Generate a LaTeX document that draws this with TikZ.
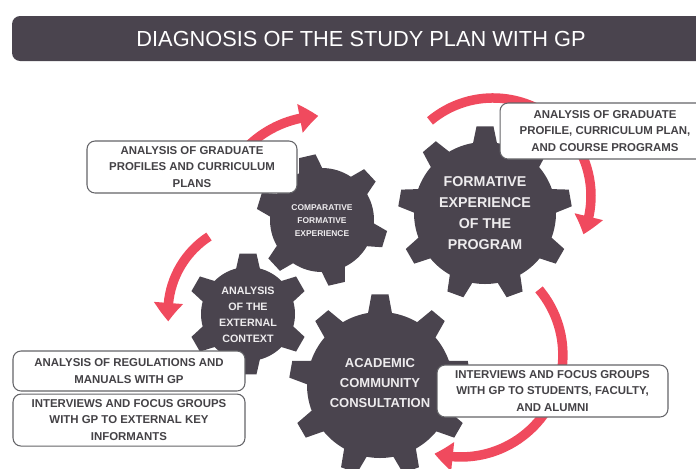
\documentclass[tikz,border=0pt]{standalone}
\usepackage{fontspec}
\setmainfont{Liberation Sans}
\usepackage{tikz}
\usetikzlibrary{arrows.meta, bending, positioning}
\definecolor{gearcol}{RGB}{74, 68, 78}
\definecolor{gearlabel}{RGB}{238, 236, 238}
\definecolor{arrowred}{RGB}{240, 74, 94}
\definecolor{boxline}{RGB}{100, 100, 104}
\definecolor{boxtext}{RGB}{68, 66, 70}

\newcommand{\sized}[2]{\fontsize{#1}{#2}\selectfont}

% gear outline: centre, teeth, root radius, tip radius, angle of first tooth
\newcommand{\gear}[5]{%
  \begin{scope}[shift={(#1)}]
    \pgfmathsetmacro\pitch{360/#2}
    \pgfmathsetmacro\tipw{deg(8.5/#4)}
    \pgfmathsetmacro\rootw{deg(12/#3)}
    \fill[gearcol] (#5-\pitch+\rootw:#3)
      \foreach \t [evaluate=\t as \a using #5+(\t-1)*\pitch] in {1,...,#2} {
        arc[start angle=\a-\pitch+\rootw, end angle=\a-\rootw, radius=#3]
        -- (\a-\tipw:#4) -- (\a+\tipw:#4) -- (\a+\rootw:#3)
      } -- cycle;
  \end{scope}}

\begin{document}
\begin{tikzpicture}[
    x=0.02cm, y=0.02cm,
    titlebar/.style={fill=gearcol, rounded corners=0.16cm, text=white,
                     minimum width=13.96cm, minimum height=0.9cm,
                     font=\sized{12.4}{14}},
    geartext/.style={text=gearlabel, align=center, inner sep=0},
    infobox/.style={draw=boxline, line width=0.6pt, fill=white,
                    rounded corners=0.16cm, align=center, text=boxtext,
                    font=\bfseries\sized{6.5}{9.6}, inner sep=0},
    turnarrow/.style={draw=arrowred, line width=0.19cm,
                      -{Triangle[width=0.56cm, length=0.37cm, bend]}}
]
    \useasboundingbox (0,0) rectangle (696,-468);

    % Heading
    \node[titlebar] (title) at (361,-38.5) {DIAGNOSIS OF THE STUDY PLAN WITH GP};

    % Gear centres
    \coordinate (cform) at (485,-213);
    \coordinate (ccomp) at (322,-220);
    \coordinate (cext) at (248,-314);
    \coordinate (cacad) at (380,-385);

    % Gears
    \gear{cform}{9}{71}{87}{90}
    \gear{ccomp}{6}{52}{66}{103}
    \gear{cext}{6}{47}{61}{90}
    \gear{cacad}{9}{73}{91}{90}

    % Gear labels
    \node[geartext, font=\bfseries\sized{8.1}{11.9}] (formative) at (cform)
        {FORMATIVE\\EXPERIENCE\\OF THE\\PROGRAM};
    \node[geartext, font=\bfseries\sized{4.8}{7.4}] (comparative) at (322,-221)
        {COMPARATIVE\\FORMATIVE\\EXPERIENCE};
    \node[geartext, font=\bfseries\sized{6.1}{9.2}] (external) at (248,-315)
        {ANALYSIS\\OF THE\\EXTERNAL\\CONTEXT};
    \node[geartext, font=\bfseries\sized{7.4}{11.3}] (academic) at (380,-383)
        {ACADEMIC\\COMMUNITY\\CONSULTATION};

    % Turning arrows
    \coordinate (t1) at (240.8,-153.9);
    \coordinate (t2) at (430,-120.9);
    \coordinate (t3) at (539,-289.4);
    \coordinate (t4) at (209,-236.5);
    \draw[turnarrow] (t1) arc[start angle=140, end angle=92, radius=106];
    \draw[turnarrow] (t2) arc[start angle=130, end angle=-23, radius=98];
    \draw[turnarrow] (t3) arc[start angle=40, end angle=-105, radius=102];
    \draw[turnarrow] (t4) arc[start angle=123, end angle=186, radius=90];

    % Activity boxes
    \node[infobox, minimum width=4.2cm, minimum height=1.04cm] (profiles) at (192,-167)
        {ANALYSIS OF GRADUATE\\PROFILES AND CURRICULUM\\PLANS};
    \node[infobox, minimum width=4.2cm, minimum height=1.12cm] (programs) at (605,-131)
        {ANALYSIS OF GRADUATE\\PROFILE, CURRICULUM PLAN,\\AND COURSE PROGRAMS};
    \node[infobox, minimum width=4.64cm, minimum height=0.8cm] (regs) at (129,-371)
        {ANALYSIS OF REGULATIONS AND\\MANUALS WITH GP};
    \node[infobox, minimum width=4.64cm, minimum height=1.04cm, below=0.04cm of regs] (keyinf)
        {INTERVIEWS AND FOCUS GROUPS\\WITH GP TO EXTERNAL KEY\\INFORMANTS};
    \node[infobox, minimum width=4.62cm, minimum height=1.04cm] (alumni) at (552.5,-391)
        {INTERVIEWS AND FOCUS GROUPS\\WITH GP TO STUDENTS, FACULTY,\\AND ALUMNI};
\end{tikzpicture}
\end{document}
